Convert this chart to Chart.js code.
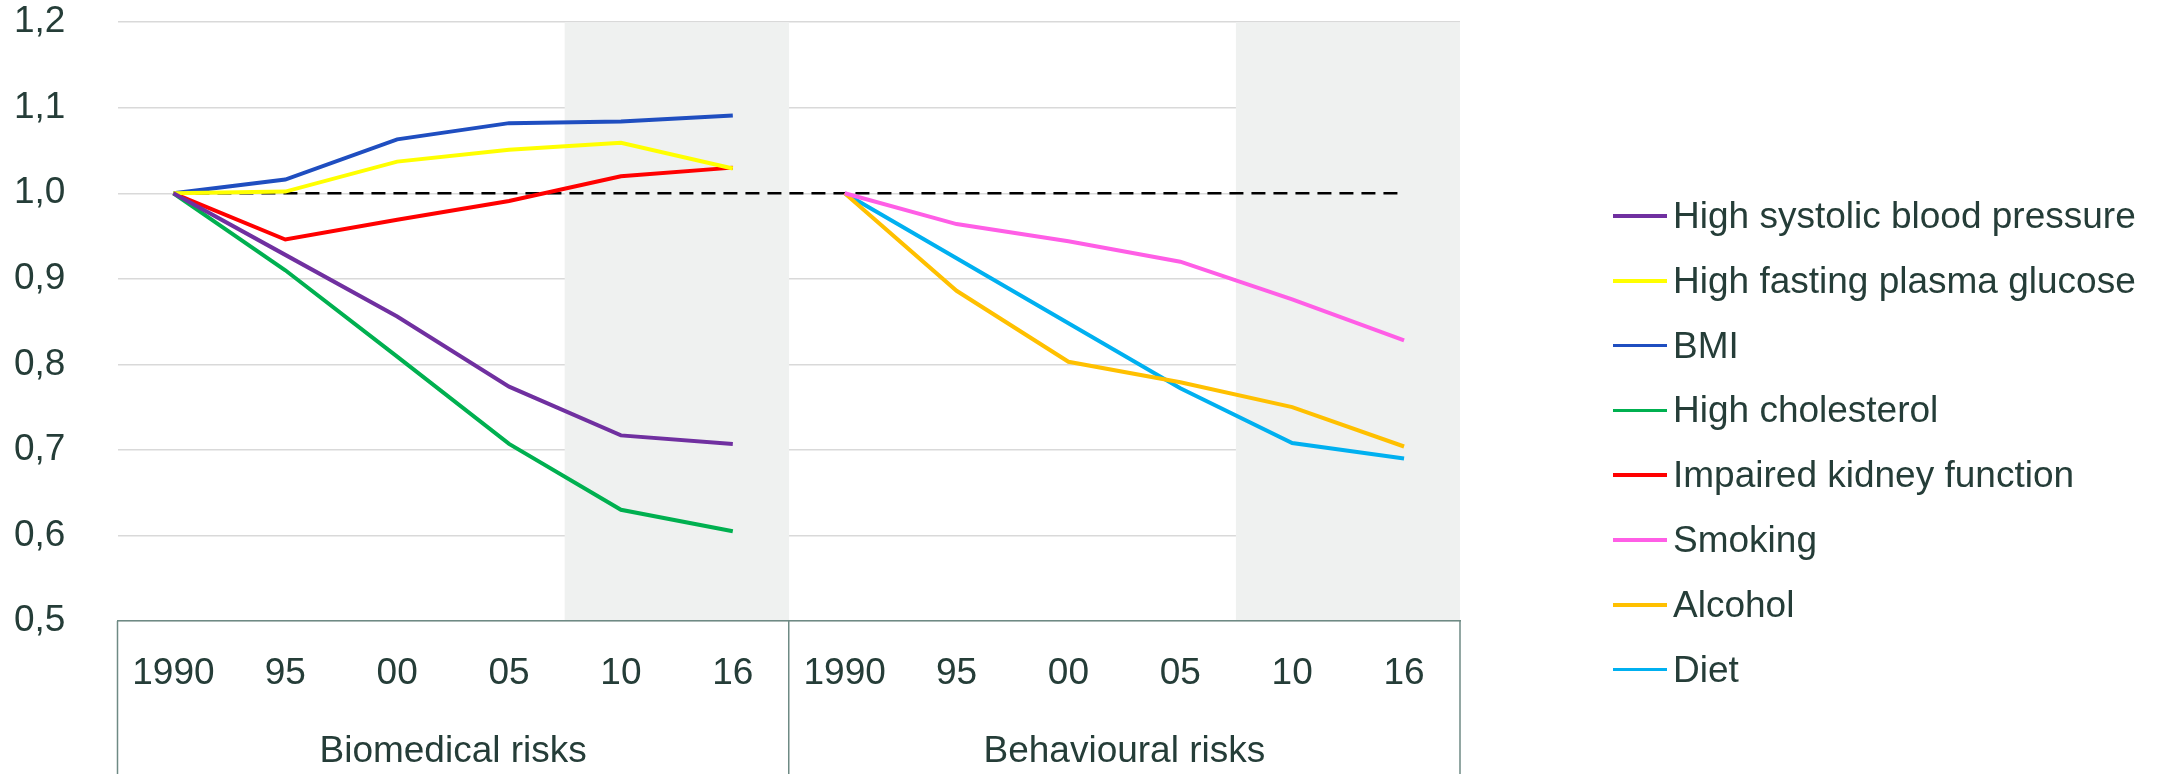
<!DOCTYPE html>
<html>
<head>
<meta charset="utf-8">
<script src="https://cdn.jsdelivr.net/npm/chart.js@4"></script>
<style>
    body { margin: 0; background: #fff; }
    #wrap { position: relative; width: 2167px; height: 774px; }
    #legend {
        position: absolute;
        left: 1613px;
        top: 183.6px;
        font-family: "Liberation Sans", Arial, sans-serif;
        font-size: 37px;
        color: #253D38;
    }
    .legend-item { display: flex; align-items: center; height: 64.8px; white-space: nowrap; }
    .legend-line { width: 54px; height: 3.5px; margin-right: 6px; }
</style>
</head>
<body>
<div id="wrap">
    <canvas id="riskChart" width="2167" height="774"></canvas>
    <div id="legend"></div>
</div>
<script>
const years = ['1990', '95', '00', '05', '10', '16'];
const groups = ['Biomedical risks', 'Behavioural risks'];
const shadedYears = ['10', '16'];

// biomedical risks
const systolic = [1.000, 0.928, 0.856, 0.774, 0.717, 0.707];
const glucose = [1.000, 1.002, 1.037, 1.051, 1.059, 1.029];
const bmi = [1.000, 1.016, 1.063, 1.082, 1.084, 1.091];
const cholesterol = [1.000, 0.910, 0.809, 0.707, 0.630, 0.605];
const kidney = [1.000, 0.946, 0.969, 0.991, 1.020, 1.030];

// behavioural risks
const smoking = [1.000, 0.964, 0.944, 0.920, 0.876, 0.828];
const alcohol = [1.000, 0.886, 0.803, 0.779, 0.750, 0.704];
const diet = [1.000, 0.924, 0.848, 0.772, 0.708, 0.690];

const baseline = 1.0;
const yMin = 0.5;
const yMax = 1.2;
const yStep = 0.1;

const TEXT = '#253D38';
const BOX = '#6E8A84';
const FONT = { family: '"Liberation Sans", Arial, sans-serif', size: 37 };

const labels = [...years, ...years];
const blank = years.map(() => null);

const series = [
    { label: 'High systolic blood pressure', color: '#7030A0', data: [...systolic, ...blank] },
    { label: 'High fasting plasma glucose', color: '#FFFF00', data: [...glucose, ...blank] },
    { label: 'BMI', color: '#1F4EC0', data: [...bmi, ...blank] },
    { label: 'High cholesterol', color: '#00B050', data: [...cholesterol, ...blank] },
    { label: 'Impaired kidney function', color: '#FF0000', data: [...kidney, ...blank] },
    { label: 'Smoking', color: '#FF5EE6', data: [...blank, ...smoking] },
    { label: 'Alcohol', color: '#FFC000', data: [...blank, ...alcohol] },
    { label: 'Diet', color: '#00B0F0', data: [...blank, ...diet] }
];

const lineDatasets = series.map(s => ({
    type: 'line',
    label: s.label,
    data: s.data,
    borderColor: s.color,
    backgroundColor: s.color,
    borderWidth: 4,
    pointRadius: 0,
    tension: 0,
    spanGaps: false
}));

// frame under the plot: left edge, split between the two groups, right edge
const axisBox = {
    id: 'axisBox',
    afterDraw(chart) {
        const { ctx, chartArea, scales: { x } } = chart;
        const split = (x.getPixelForValue(years.length - 1) + x.getPixelForValue(years.length)) / 2;
        ctx.save();
        ctx.strokeStyle = BOX;
        ctx.lineWidth = 1.5;
        [chartArea.left, split, chartArea.right].forEach(px => {
            ctx.beginPath();
            ctx.moveTo(px, chartArea.bottom);
            ctx.lineTo(px, chart.height);
            ctx.stroke();
        });
        ctx.restore();
    }
};

const fixHeight = (height) => (scale) => {
    scale.height = height;
    scale.paddingLeft = 0;
    scale.paddingRight = 0;
};

const chart = new Chart(document.getElementById('riskChart'), {
    data: {
        labels,
        datasets: [
            ...lineDatasets,
            {
                type: 'line',
                label: 'baseline',
                data: labels.map(() => baseline),
                borderColor: '#000',
                borderWidth: 2.5,
                borderDash: [14, 8],
                pointRadius: 0
            },
            {
                type: 'bar',
                label: 'shade',
                data: labels.map(l => shadedYears.includes(l) ? [yMin, yMax] : null),
                backgroundColor: '#EFF1F0',
                borderWidth: 0,
                barPercentage: 1,
                categoryPercentage: 1
            }
        ]
    },
    options: {
        responsive: false,
        animation: false,
        layout: { padding: { left: 14, right: 707, top: 0, bottom: 0 } },
        plugins: {
            legend: { display: false },
            tooltip: { enabled: false }
        },
        scales: {
            x: {
                weight: 0,
                offset: true,
                grid: { display: false, drawTicks: false },
                border: { display: true, color: BOX, width: 1.5, z: 1 },
                ticks: { padding: 31, color: TEXT, font: FONT, maxRotation: 0, autoSkip: false },
                afterFit: fixHeight(75.4)
            },
            x2: {
                type: 'category',
                position: 'bottom',
                weight: 1,
                labels: groups,
                offset: true,
                grid: { display: false, drawTicks: false },
                border: { display: false },
                ticks: { padding: 33, color: TEXT, font: FONT, maxRotation: 0 },
                afterFit: fixHeight(77.6)
            },
            y: {
                min: yMin,
                max: yMax,
                grid: { color: '#D9D9D9', lineWidth: 1.5, drawTicks: false },
                border: { display: false },
                ticks: {
                    stepSize: yStep,
                    padding: 0,
                    crossAlign: 'far',
                    color: TEXT,
                    font: FONT,
                    callback: (value) => value.toFixed(1).replace('.', ',')
                },
                afterFit: (scale) => { scale.width = 103.5; }
            }
        }
    },
    plugins: [axisBox]
});

const legend = document.getElementById('legend');
series.forEach(s => {
    const item = document.createElement('div');
    item.className = 'legend-item';
    item.innerHTML = `<span class="legend-line" style="background:${s.color}"></span><span>${s.label}</span>`;
    legend.appendChild(item);
});
</script>
</body>
</html>
